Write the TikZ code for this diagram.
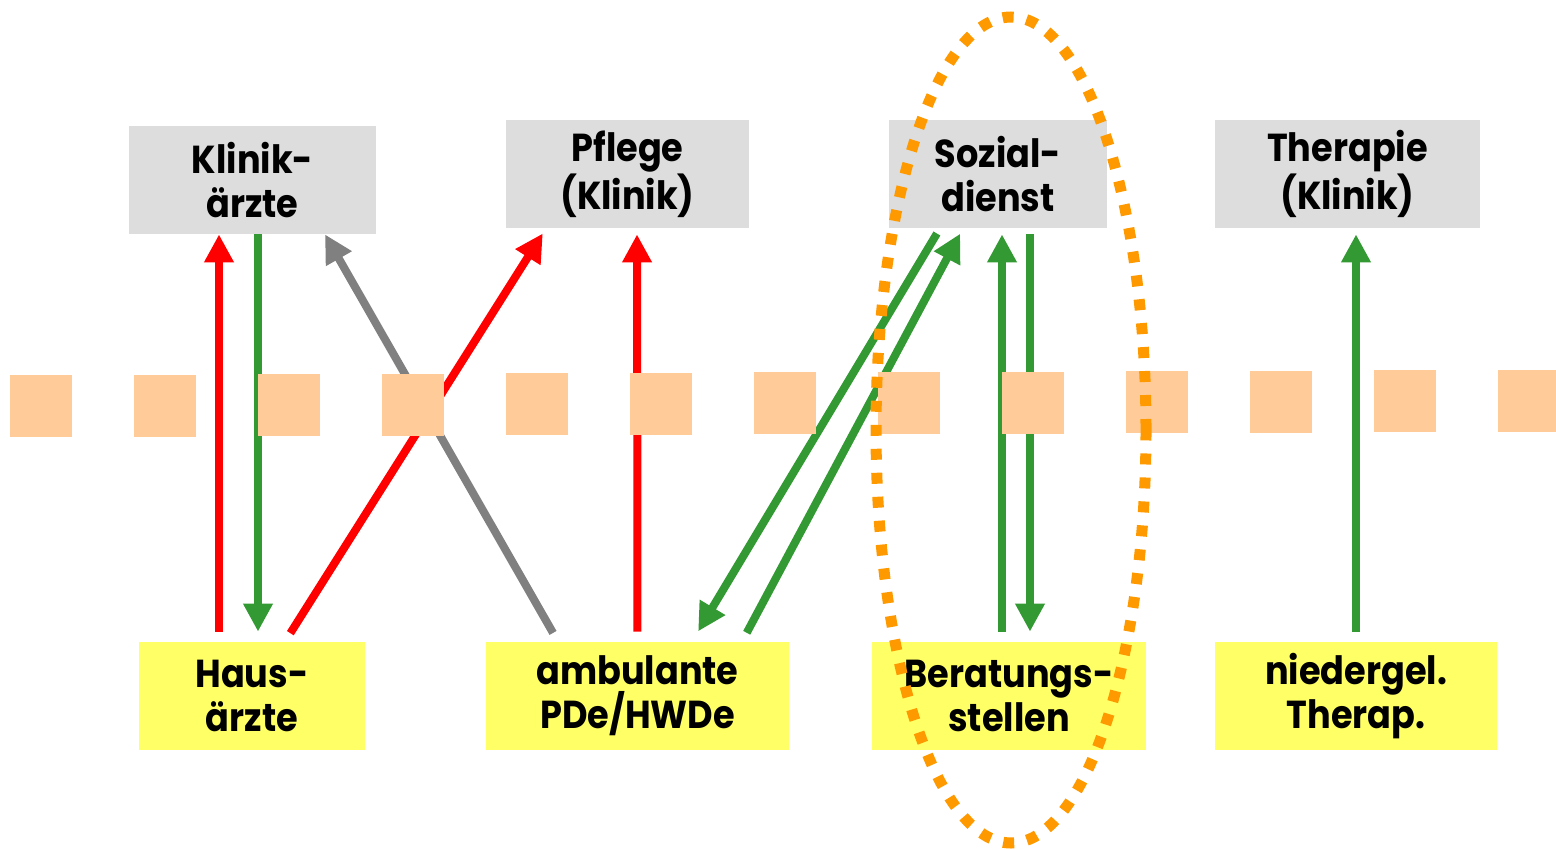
\documentclass[tikz,border=0pt]{standalone}
\usepackage{fontspec}
\setmainfont{Poppins}[BoldFeatures={FakeStretch=0.9}]
\usetikzlibrary{arrows.meta}
\definecolor{boxgray}{HTML}{DDDDDD}
\definecolor{boxyellow}{HTML}{FFFF66}
\definecolor{bandorange}{HTML}{FFCC99}
\definecolor{ellorange}{HTML}{FF9900}
\definecolor{arrgreen}{HTML}{339933}
\definecolor{arrred}{HTML}{FF0000}
\definecolor{arrgray}{HTML}{808080}
\tikzset{
  lbl/.style={align=center, inner sep=0pt, font=\bfseries\fontsize{19.5}{22}\selectfont, text=black,
    execute at begin node={\rule{0pt}{24.5pt}}},
  graybox/.style={lbl, fill=boxgray, minimum height=54pt},
  yellowbox/.style={lbl, fill=boxyellow, minimum height=54pt},
  conn/.style={line width=4pt, -{Triangle[length=14pt,width=14pt]}},
  redarr/.style={conn, draw=arrred},
  greenarr/.style={conn, draw=arrgreen},
  grayarr/.style={conn, draw=arrgray},
  bandsq/.style={fill=bandorange},
  dotring/.style={draw=ellorange, line width=5.5pt, dash pattern=on 5.5pt off 6.5pt}
}
\begin{document}
\begin{tikzpicture}[x=0.5pt,y=-0.5pt]
\useasboundingbox (0,0) rectangle (1556,850);
% top boxes
\node[graybox, minimum width=123.5pt] (K) at (252.5,180) {Klinik-\\ärzte};
\node[graybox, minimum width=121.5pt] (P) at (627.5,174) {Pflege\\(Klinik)};
\node[graybox, minimum width=109pt] (S) at (998,174) {Sozial-\\dienst};
\node[graybox, minimum width=132.5pt] (T) at (1347.5,174) {Therapie\\(Klinik)};
% bottom boxes
\node[yellowbox, minimum width=113pt] (H) at (252,696) {Haus-\\ärzte};
\node[yellowbox, minimum width=151.5pt] (A) at (637.5,696) {ambulante\\PDe/HWDe};
\node[yellowbox, minimum width=137pt] (B) at (1009,696) {Beratungs-\\stellen};
\node[yellowbox, minimum width=141pt] (N) at (1356,696) {niedergel.\\Therap.};
% connectors
\draw[redarr, shorten <=5pt] ([xshift=-16.5pt]H.north) -- ([xshift=-16.75pt]K.south);
\draw[greenarr, shorten >=5pt] ([xshift=2.75pt]K.south) -- ([xshift=3pt]H.north);
\draw[grayarr, shorten <=5pt] ([xshift=-39.75pt]A.north) -- ([xshift=36.25pt]K.south);
\draw[redarr, shorten <=5pt, shorten >=3pt] ([xshift=16.5pt]H.north) -- ([xshift=-40.75pt]P.south);
\draw[redarr, shorten <=5pt, shorten >=3pt] ([xshift=0pt]A.north) -- ([xshift=4.75pt]P.south);
\draw[greenarr, shorten <=3pt, shorten >=6pt] ([xshift=-29pt]S.south) -- ([xshift=27.25pt]A.north);
\draw[greenarr, shorten <=5pt, shorten >=3pt] ([xshift=52.25pt]A.north) -- ([xshift=-17.5pt]S.south);
\draw[greenarr, shorten <=5pt, shorten >=3pt] ([xshift=-3.5pt]B.north) -- ([xshift=2pt]S.south);
\draw[greenarr, shorten <=3pt, shorten >=5pt] ([xshift=16pt]S.south) -- ([xshift=10.5pt]B.north);
\draw[greenarr, shorten <=5pt, shorten >=3pt] ([xshift=0pt]N.north) -- ([xshift=4.25pt]T.south);
% dashed band of squares
\foreach \i in {0,...,12} {
  \pgfmathsetmacro{\xx}{10+124*\i}
  \pgfmathsetmacro{\yy}{375-0.42*\i}
  \fill[bandsq] (\xx,\yy) rectangle ++(62,62);
}
% dotted ellipse
\draw[dotring] (1011,430) ellipse [x radius=67.5pt, y radius=206.5pt];
\end{tikzpicture}
\end{document}
